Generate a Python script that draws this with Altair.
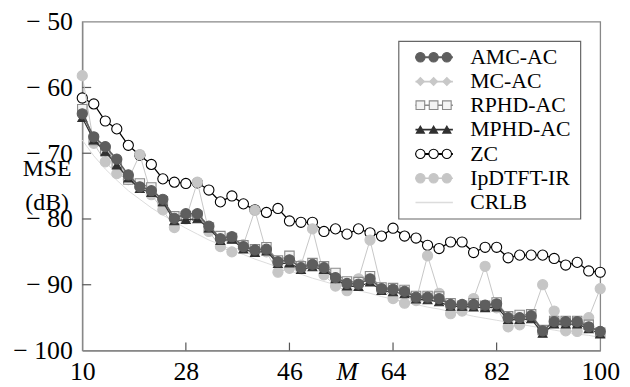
import altair as alt
import pandas as pd

M = [10, 12, 14, 16, 18, 20, 22, 24, 26, 28, 30, 32, 34, 36, 38, 40, 42, 44, 46, 48,
     50, 52, 54, 56, 58, 60, 62, 64, 66, 68, 70, 72, 74, 76, 78, 80, 82, 84, 86, 88,
     90, 92, 94, 96, 98, 100]

AMC_AC = [-64.0, -67.5, -69.0, -70.9, -73.3, -75.1, -75.7, -77.0, -79.9, -79.2,
          -79.2, -81.1, -83.0, -82.7, -84.2, -84.7, -84.6, -86.5, -86.2, -87.4,
          -86.9, -87.4, -88.9, -89.8, -89.9, -89.1, -90.6, -90.7, -91.0, -91.9,
          -91.9, -92.1, -93.0, -93.0, -93.0, -93.1, -92.9, -95.0, -95.0, -94.7,
          -97.0, -95.6, -95.6, -95.6, -96.4, -97.1]
MC_AC = [-63.8, -67.8, -69.2, -71.2, -73.6, -75.0, -75.5, -77.2, -79.8, -79.4,
         -79.4, -81.2, -82.8, -82.8, -84.1, -84.7, -84.5, -86.4, -86.0, -87.3,
         -86.8, -87.3, -88.6, -89.7, -89.8, -89.0, -90.5, -90.6, -90.9, -91.8,
         -91.8, -92.0, -92.9, -93.1, -92.9, -93.1, -92.8, -94.9, -94.8, -94.6,
         -97.0, -95.6, -95.6, -95.6, -96.3, -97.2]
RPHD_AC = [-63.3, -68.0, -69.5, -71.5, -74.0, -74.6, -75.2, -77.3, -79.6, -79.6,
           -79.5, -81.3, -82.6, -82.9, -84.0, -84.6, -84.3, -86.3, -85.6, -87.2,
           -86.7, -87.2, -88.2, -89.5, -89.6, -88.7, -90.4, -90.5, -90.8, -91.7,
           -91.7, -91.8, -92.8, -93.2, -92.8, -93.2, -92.7, -94.8, -94.6, -94.5,
           -96.9, -95.5, -95.5, -95.5, -96.1, -97.3]
MPHD_AC = [-64.6, -68.0, -69.8, -71.8, -73.8, -75.4, -76.0, -77.4, -80.3, -80.1,
           -80.0, -81.4, -83.3, -83.1, -84.6, -85.1, -84.9, -86.8, -86.7, -87.7,
           -87.3, -87.7, -89.1, -90.2, -90.3, -89.6, -90.9, -91.1, -91.4, -92.2,
           -92.3, -92.6, -93.3, -93.3, -93.4, -93.5, -93.4, -95.3, -95.3, -95.2,
           -97.4, -96.0, -96.0, -96.0, -96.7, -97.5]
ZC = [-61.6, -62.5, -65.1, -66.3, -68.8, -70.3, -71.7, -73.9, -74.4, -74.6,
      -74.5, -75.6, -77.4, -76.5, -77.7, -78.6, -79.0, -78.4, -80.3, -80.5,
      -80.5, -81.9, -81.5, -82.3, -81.5, -82.1, -82.6, -81.4, -82.6, -82.9,
      -84.0, -84.5, -83.5, -83.5, -85.1, -84.3, -84.3, -85.9, -85.5, -85.5,
      -85.5, -86.0, -87.0, -86.6, -87.9, -88.1]
IPDTFT_IR = [-58.2, -68.5, -71.3, -73.1, -74.0, -70.2, -76.3, -78.6, -81.3, -80.0,
             -74.4, -81.9, -84.2, -85.0, -83.9, -78.7, -85.0, -88.1, -87.5, -87.0,
             -81.5, -88.5, -90.2, -90.9, -89.1, -83.2, -90.5, -92.1, -92.8, -92.4,
             -85.6, -91.3, -94.4, -94.0, -92.1, -87.2, -93.5, -96.4, -96.1, -95.0,
             -90.0, -94.0, -97.0, -97.1, -95.0, -90.6]
CRLB = [-68.0, -70.4, -72.4, -74.1, -75.7, -77.0, -78.3, -79.4, -80.4, -81.4,
        -82.3, -83.2, -83.9, -84.7, -85.4, -86.1, -86.7, -87.3, -87.9, -88.4,
        -89.0, -89.5, -90.0, -90.4, -90.9, -91.3, -91.8, -92.2, -92.6, -93.0,
        -93.4, -93.7, -94.1, -94.4, -94.8, -95.1, -95.4, -95.7, -96.0, -96.3,
        -96.6, -96.9, -97.2, -97.5, -97.7, -98.0]

SERIES = ["AMC-AC", "MC-AC", "RPHD-AC", "MPHD-AC", "ZC", "IpDTFT-IR", "CRLB"]
VALUES = {"AMC-AC": AMC_AC, "MC-AC": MC_AC, "RPHD-AC": RPHD_AC, "MPHD-AC": MPHD_AC,
          "ZC": ZC, "IpDTFT-IR": IPDTFT_IR, "CRLB": CRLB}

X_TICKS = [10, 28, 46, 64, 82, 100]
Y_TICKS = [-100, -90, -80, -70, -60, -50]

# legend placement (in data units)
LEG_BOX = {"x0": 65.0, "x1": 96.6, "y0": -53.0, "y1": -80.0}
LEG_ROWS = [-55.4, -59.1, -62.7, -66.4, -70.1, -73.8, -77.5]
LEG_LINE = [67.9, 74.4]
LEG_MARKS = [68.75, 71.05, 73.35]
LEG_TEXT_X = 77.4

STYLE = {
    "AMC-AC": dict(line="#5e5e5e", lw=1.5, shape="circle", fill="#5e5e5e", stroke="#5e5e5e", size=105),
    "MC-AC": dict(line="#c8c8c8", lw=1.2, shape="diamond", fill="#c8c8c8", stroke="#c8c8c8", size=75),
    "RPHD-AC": dict(line="#8a8a8a", lw=1.2, shape="square", fill="#f4f4f4", stroke="#8a8a8a", size=90),
    "MPHD-AC": dict(line="#303030", lw=1.2, shape="triangle-up", fill="#303030", stroke="#303030", size=80),
    "ZC": dict(line="#000000", lw=1.3, shape="circle", fill="#ffffff", stroke="#000000", size=105),
    "IpDTFT-IR": dict(line="#c6c6c6", lw=1.0, shape="circle", fill="#c6c6c6", stroke="#c6c6c6", size=105),
    "CRLB": dict(line="#dcdcdc", lw=1.0, shape=None),
}
DRAW_ORDER = ["CRLB", "ZC", "IpDTFT-IR", "MC-AC", "RPHD-AC", "MPHD-AC", "AMC-AC"]

FONT = "Liberation Serif"
xs = alt.Scale(domain=[10, 100], nice=False, zero=False, padding=0)
ys = alt.Scale(domain=[-100, -50], nice=False, zero=False, padding=0)
xaxis = alt.Axis(values=X_TICKS, ticks=False, grid=False, labelPadding=8, labelFlush=False,
                 labelFont=FONT, labelFontSize=26, labelColor="black",
                 domainColor="#888888", domainWidth=1.3,
                 title="M", titleFont=FONT, titleFontSize=26, titleFontStyle="italic",
                 titleFontWeight="normal", titleColor="black",
                 titleX=267, titleY=8, titleAlign="center", titleBaseline="top")
yaxis = alt.Axis(values=Y_TICKS, ticks=False, grid=False, labelPadding=10, labelFlush=False,
                 labelFont=FONT, labelFontSize=26, labelColor="black",
                 labelExpr="datum.value < 0 ? '\u2212 ' + (-datum.value) : datum.value",
                 domainColor="#888888", domainWidth=1.3,
                 title=["MSE", "(dB)"], titleFont=FONT, titleFontSize=24,
                 titleFontWeight="normal", titleColor="black", titleAngle=0,
                 titleX=-36, titleY=148, titleAlign="center", titleBaseline="middle",
                 titleLineHeight=35)


def X(field):
    return alt.X(field, type="quantitative", scale=xs, axis=xaxis)


def Y(field):
    return alt.Y(field, type="quantitative", scale=ys, axis=yaxis)


layers = []

# inside tick marks
tx = pd.DataFrame({"t": X_TICKS[1:-1]})
layers.append(alt.Chart(tx).transform_calculate(y0="-100", y1="-100 + 8/6.65").mark_rule(
    color="#555555", strokeWidth=1.2).encode(x=X("t"), y=Y("y0:Q"), y2="y1:Q"))
ty = pd.DataFrame({"t": Y_TICKS[1:-1]})
layers.append(alt.Chart(ty).transform_calculate(x0="10", x1="10 + 9/5.815").mark_rule(
    color="#555555", strokeWidth=1.2).encode(x=X("x0:Q"), x2="x1:Q", y=Y("t")))

for name in DRAW_ORDER:
    st = STYLE[name]
    df = pd.DataFrame({"M": M, "v": VALUES[name]})
    base = alt.Chart(df)
    layers.append(base.mark_line(color=st["line"], strokeWidth=st["lw"]).encode(x=X("M"), y=Y("v")))
    if st["shape"]:
        layers.append(base.mark_point(shape=st["shape"], filled=True, fill=st["fill"],
                                      stroke=st["stroke"], strokeWidth=1.1, size=st["size"],
                                      opacity=1).encode(x=X("M"), y=Y("v")))

# legend box
box = pd.DataFrame([LEG_BOX])
layers.append(alt.Chart(box).mark_rect(fill="white", stroke="#666666", strokeWidth=1.2).encode(
    x=X("x0"), x2="x1", y=Y("y0"), y2="y1"))

for name, ry in zip(SERIES, LEG_ROWS):
    st = STYLE[name]
    seg = pd.DataFrame({"a": [LEG_LINE[0]], "b": [LEG_LINE[1]], "y": [ry]})
    lw = 2.0 if name == "ZC" else st["lw"] + 0.5
    layers.append(alt.Chart(seg).mark_rule(color=st["line"], strokeWidth=lw).encode(
        x=X("a"), x2="b", y=Y("y")))
    if st["shape"]:
        pts = pd.DataFrame({"x": LEG_MARKS, "y": [ry] * 3})
        layers.append(alt.Chart(pts).mark_point(shape=st["shape"], filled=True, fill=st["fill"],
                                               stroke=st["stroke"], strokeWidth=1.1,
                                               size=st["size"] * 0.85, opacity=1).encode(
            x=X("x"), y=Y("y")))
    lab = pd.DataFrame({"x": [LEG_TEXT_X], "y": [ry], "t": [name]})
    layers.append(alt.Chart(lab).mark_text(align="left", baseline="middle", font=FONT,
                                          fontSize=22, color="black").encode(
        x=X("x"), y=Y("y"), text="t"))

chart = alt.layer(*layers).properties(
    width=523, height=332,
    autosize=alt.AutoSizeParams(type="none"),
    padding={"left": 75, "top": 12, "right": 22, "bottom": 34},
    background="white",
).configure_view(stroke="#888888", strokeWidth=1.3)

chart.save("out.html", embed_options={"renderer": "svg", "actions": False})
